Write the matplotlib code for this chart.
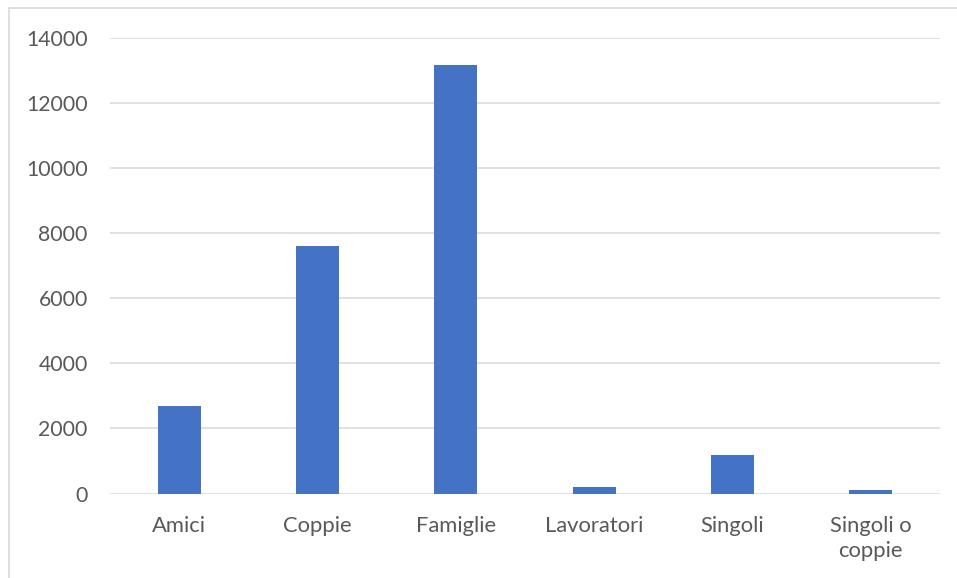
import matplotlib
matplotlib.use("Agg")
import matplotlib.pyplot as plt
from matplotlib.patches import Rectangle

categories = ["Amici", "Coppie", "Famiglie", "Lavoratori", "Singoli", "Singoli o\ncoppie"]
values = [2690, 7610, 13170, 190, 1190, 100]
y_ticks = [0, 2000, 4000, 6000, 8000, 10000, 12000, 14000]

W, H = 957, 578
fig = plt.figure(figsize=(W / 100, H / 100), dpi=100)
plt.rcParams["font.family"] = ["Lato", "DejaVu Sans"]

# chart frame
fig.patches.append(Rectangle((9 / W, -0.1), 1.2, 1 - 8 / H + 0.1, transform=fig.transFigure,
                             fill=False, edgecolor="#d9d9d9", linewidth=1.2))

left, right, top, bottom = 110, 940, 38, 493.5
ax = fig.add_axes([left / W, 1 - bottom / H, (right - left) / W, (bottom - top) / H])

x = range(len(categories))
ax.bar(x, values, width=0.31, color="#4472C4", zorder=3)

ax.set_xlim(-0.5, len(categories) - 0.5)
ax.set_ylim(0, 14000)
ax.set_yticks(y_ticks)
ax.set_yticklabels([str(v) for v in y_ticks])
ax.set_xticks(list(x))
ax.set_xticklabels(categories, linespacing=1.3)

ax.grid(axis="y", color="#d9d9d9", linewidth=1.1, zorder=0)
for s in ax.spines.values():
    s.set_visible(False)
ax.tick_params(axis="both", length=0, labelcolor="#595959")
ax.tick_params(axis="y", pad=16, labelsize=15.3)
ax.tick_params(axis="x", pad=16, labelsize=15.8)

fig.savefig("out.png", dpi=100)
